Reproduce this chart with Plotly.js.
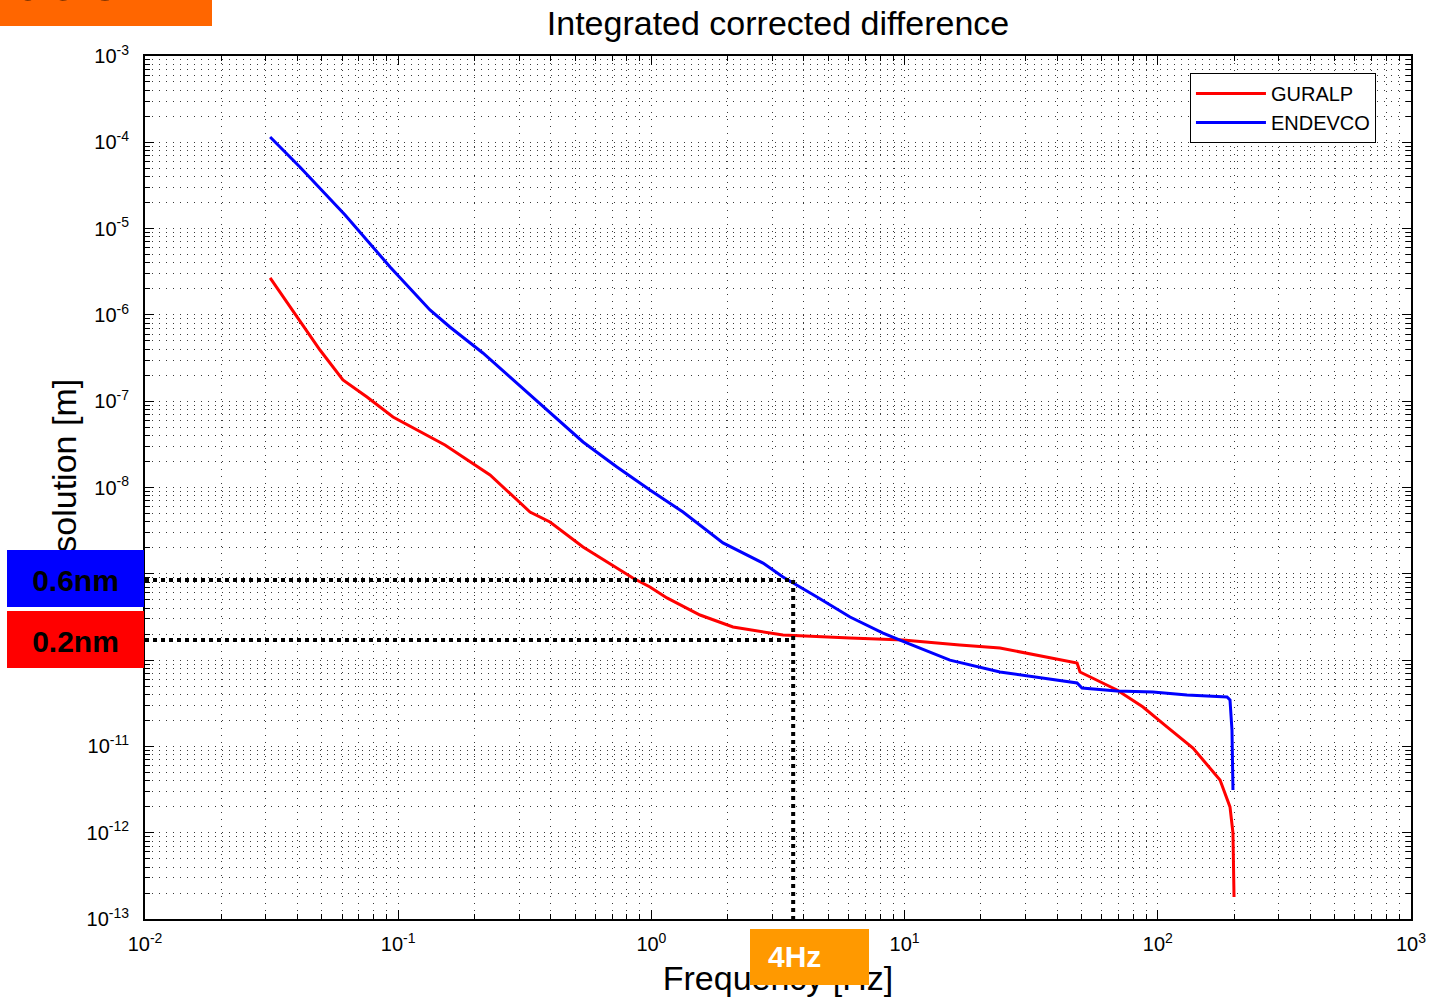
<!DOCTYPE html>
<html>
<head>
<meta charset="utf-8">
<script src="https://cdn.plot.ly/plotly-3.0.1.min.js"></script>
<style>
  html, body { margin: 0; padding: 0; background: #fff; }
  #wrap { position: relative; width: 1437px; height: 999px; overflow: hidden; }
  #chart { position: absolute; left: 0; top: 0; width: 1437px; height: 999px; }
  .box { position: absolute; font-family: "Liberation Sans", Arial, sans-serif; font-weight: bold;
         display: flex; align-items: center; justify-content: center; overflow: hidden; }
</style>
</head>
<body>
<div id="wrap">
  <div id="chart"></div>
  <div class="box" id="topbox" style="left:0;top:0;width:212px;height:26px;background:#ff6600;justify-content:flex-start;align-items:flex-end;">
    <span style="font-size:60px;color:#000;line-height:60px;margin-bottom:16px;margin-left:-150px;white-space:nowrap;">Resolution</span>
  </div>
  <div class="box" id="b06" style="left:7px;top:550px;width:137px;height:57px;background:#0000ff;color:#000;font-size:30px;padding-top:4px;box-sizing:border-box;">0.6nm</div>
  <div class="box" id="b02" style="left:7px;top:611px;width:137px;height:57px;background:#ff0000;color:#000;font-size:30px;padding-top:4px;box-sizing:border-box;">0.2nm</div>
  <div class="box" id="b4" style="left:750px;top:929px;width:119px;height:56px;background:#ff9900;color:#fff;font-size:30px;justify-content:flex-start;padding-left:18px;box-sizing:border-box;">4Hz</div>
</div>
<script>
// ---- data ----
const guralpFreq = [0.0312, 0.0398, 0.0491, 0.0605, 0.0753, 0.0954, 0.153, 0.2305, 0.3316, 0.3976, 0.537, 0.845, 0.987, 1.152, 1.556, 2.10, 3.31, 6.09, 9.86, 16.5, 23.8, 48.0, 49.3, 69.0, 87.4, 108.7, 137.7, 176.1, 192.8, 198.1, 200];
const guralpVal  = [2.68e-6, 9.46e-7, 3.92e-7, 1.76e-7, 1.12e-7, 6.56e-8, 3.11e-8, 1.40e-8, 5.20e-9, 3.98e-9, 2.05e-9, 8.93e-10, 7.03e-10, 5.25e-10, 3.33e-10, 2.42e-10, 1.95e-10, 1.80e-10, 1.71e-10, 1.50e-10, 1.38e-10, 9.25e-11, 7.28e-11, 4.51e-11, 2.86e-11, 1.68e-11, 9.58e-12, 4.08e-12, 1.99e-12, 9.93e-13, 1.80e-13];

const endevcoFreq = [0.0312, 0.0409, 0.0617, 0.0929, 0.1335, 0.160, 0.216, 0.3976, 0.537, 0.731, 0.987, 1.333, 1.918, 2.76, 3.31, 4.51, 6.09, 8.22, 10.2, 15.1, 23.8, 48.0, 50.2, 69.0, 95.7, 130.4, 187.7, 192.8, 196.3, 198.1];
const endevcoVal  = [1.15e-4, 5.18e-5, 1.44e-5, 3.59e-6, 1.14e-6, 7.24e-7, 3.62e-7, 7.50e-8, 3.37e-8, 1.73e-8, 9.35e-9, 5.20e-9, 2.28e-9, 1.33e-9, 9.18e-10, 5.38e-10, 3.16e-10, 2.06e-10, 1.58e-10, 1.00e-10, 7.28e-11, 5.43e-11, 4.75e-11, 4.39e-11, 4.27e-11, 3.94e-11, 3.73e-11, 3.45e-11, 1.55e-11, 3.13e-12];

// guide lines (0.6nm / 0.2nm / 4Hz as drawn)
const markFreqRange = [0.01, 3.63];
const markHigh = 8.48e-10;
const markLow = 1.71e-10;
const markFreq = 3.63;
const markBottom = 1e-13;

// tick labels
const xTickVals = [1e-2, 1e-1, 1e0, 1e1, 1e2, 1e3];
const xTickText = ['10<sup>-2</sup>', '10<sup>-1</sup>', '10<sup>0</sup>', '10<sup>1</sup>', '10<sup>2</sup>', '10<sup>3</sup>'];
const yTickVals = [1e-13, 1e-12, 1e-11, 1e-10, 1e-9, 1e-8, 1e-7, 1e-6, 1e-5, 1e-4, 1e-3];
const yTickText = ['10<sup>-13</sup>', '10<sup>-12</sup>', '10<sup>-11</sup>', '10<sup>-10</sup>', '10<sup>-9</sup>', '10<sup>-8</sup>', '10<sup>-7</sup>', '10<sup>-6</sup>', '10<sup>-5</sup>', '10<sup>-4</sup>', '10<sup>-3</sup>'];

const seriesNames = ["GURALP", "ENDEVCO"];
const titleText = "Integrated corrected difference";
const xTitle = "Frequency [Hz]";
const yTitle = "Resolution [m]";

const FONT = '"Liberation Sans", Arial, sans-serif';
const gridDash = '1px,6px';
const gridColor = '#3a3a3a';

const dotLine = {color: '#000', width: 4, dash: 'dot'};
const traces = [
  {x: guralpFreq, y: guralpVal, name: seriesNames[0], mode: 'lines', line: {color: '#ff0000', width: 3}},
  {x: endevcoFreq, y: endevcoVal, name: seriesNames[1], mode: 'lines', line: {color: '#0000ff', width: 3}},
  {x: markFreqRange, y: [markHigh, markHigh], mode: 'lines', line: dotLine, showlegend: false, hoverinfo: 'skip'},
  {x: markFreqRange, y: [markLow, markLow], mode: 'lines', line: dotLine, showlegend: false, hoverinfo: 'skip'},
  {x: [markFreq, markFreq], y: [markHigh, markBottom], mode: 'lines', line: dotLine, showlegend: false, hoverinfo: 'skip'}
];

function axisCommon(vals, text) {
  return {
    type: 'log', tickmode: 'array', tickvals: vals, ticktext: text,
    showline: true, linecolor: '#000', linewidth: 2, mirror: 'ticks',
    ticks: 'inside', ticklen: 9, tickwidth: 1, tickcolor: '#000',
    showgrid: true, gridcolor: gridColor, gridwidth: 1, griddash: gridDash,
    zeroline: false,
    tickfont: {family: FONT, size: 20, color: '#000'},
    minor: {tickmode: 'linear', dtick: 'D1', ticks: 'inside', ticklen: 5, tickcolor: '#000', tickwidth: 1,
            showgrid: true, gridcolor: gridColor, gridwidth: 1, griddash: gridDash}
  };
}

const xaxis = Object.assign(axisCommon(xTickVals, xTickText), {
  range: [-2, 3],
  ticklabelstandoff: 6,
  title: {text: xTitle, font: {family: FONT, size: 34, color: '#000'}, standoff: 12}
});
const yaxis = Object.assign(axisCommon(yTickVals, yTickText), {
  range: [-13, -3],
  ticklabelstandoff: 10,
  title: {text: yTitle, font: {family: FONT, size: 34, color: '#000'}, standoff: 0}
});

const layout = {
  width: 1437, height: 999,
  margin: {l: 145, r: 26, t: 56, b: 80},
  paper_bgcolor: '#fff', plot_bgcolor: '#fff',
  font: {family: FONT, color: '#000'},
  title: {text: titleText, font: {family: FONT, size: 34, color: '#000'}, x: 0.5, xref: 'paper', y: 0.977, yanchor: 'middle'},
  xaxis: xaxis, yaxis: yaxis,
  showlegend: true,
  legend: {x: 0.8254, y: 0.9803, xanchor: 'left', yanchor: 'top', bgcolor: '#fff',
           bordercolor: '#000', borderwidth: 1, font: {family: FONT, size: 20, color: '#000'},
           itemwidth: 70, tracegroupgap: 0}
};

Plotly.newPlot('chart', traces, layout, {displayModeBar: false, staticPlot: true});
</script>
</body>
</html>
